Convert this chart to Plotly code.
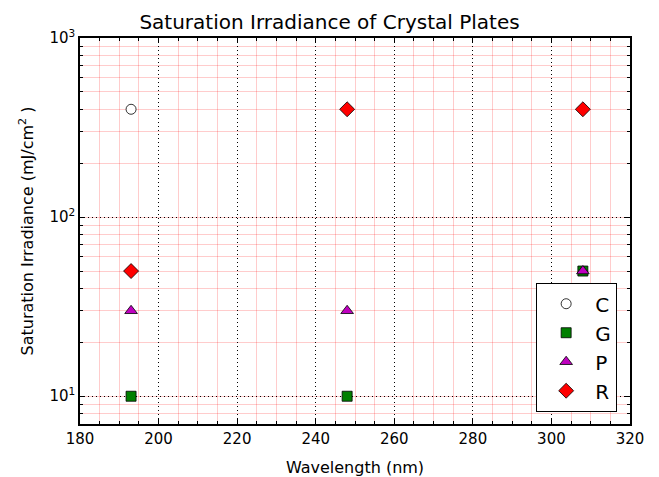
import plotly.graph_objects as go

# Data
c_x = [193]
c_y = [400]
g_x = [193, 248, 308]
g_y = [10, 10, 50]
p_x = [193, 248, 308]
p_y = [30, 30, 50]
r_x = [193, 248, 308]
r_y = [50, 400, 400]

y_tickvals = [10, 100, 1000]
y_ticktext = ["10<sup>1</sup>", "10<sup>2</sup>", "10<sup>3</sup>"]

FONT = "DejaVu Sans"
EDGE = dict(color="black", width=0.8)

fig = go.Figure()
fig.add_trace(go.Scatter(x=c_x, y=c_y, mode="markers", name="C", legendgroup="C",
                         marker=dict(symbol="circle", size=10, color="white", line=EDGE)))
fig.add_trace(go.Scatter(x=g_x, y=g_y, mode="markers", name="G", legendgroup="G",
                         marker=dict(symbol="square", size=10, color="#008000", line=EDGE)))
fig.add_trace(go.Scatter(x=p_x, y=p_y, mode="markers", name="P", legendgroup="P",
                         marker=dict(symbol="triangle-up", size=11, color="#bf00bf", line=EDGE)))
fig.add_trace(go.Scatter(x=r_x, y=r_y, mode="markers", name="R", legendgroup="R",
                         marker=dict(symbol="diamond", size=11.5, color="red", line=EDGE)))

fig.update_layout(
    width=659, height=477,
    margin=dict(l=80, r=29, t=38, b=53),
    paper_bgcolor="white", plot_bgcolor="white",
    font=dict(family=FONT, color="black", size=15),
    title=dict(text="Saturation Irradiance of Crystal Plates", x=0.5, xanchor="center",
               y=1 - 22 / 477, yanchor="middle", font=dict(size=20, family=FONT)),
    showlegend=True,
    legend=dict(x=0.829, y=0.031, xanchor="left", yanchor="bottom",
                bordercolor="black", borderwidth=1.2, bgcolor="white",
                font=dict(size=20, family=FONT), itemwidth=48,
                traceorder="grouped", tracegroupgap=0),
)

fig.update_xaxes(
    range=[180, 320], dtick=20, tick0=180, automargin=False,
    showline=True, linecolor="black", linewidth=1.5, mirror="allticks",
    ticks="inside", ticklen=5, tickcolor="black", tickwidth=1,
    showgrid=True, gridcolor="black", griddash="1px,3px", gridwidth=1,
    zeroline=False,
    tickfont=dict(size=15),
    title=dict(text="Wavelength (nm)", font=dict(size=16), standoff=16),
    minor=dict(dtick=5, tick0=180, ticks="inside", ticklen=3, tickcolor="black",
               showgrid=True, gridcolor="rgba(255,0,0,0.2)", griddash="solid", gridwidth=1),
)

fig.update_yaxes(
    type="log", range=[0.845, 3], automargin=False,
    tickmode="array", tickvals=y_tickvals, ticktext=y_ticktext,
    showline=True, linecolor="black", linewidth=1.5, mirror="allticks",
    ticks="inside", ticklen=5, tickcolor="black", tickwidth=1,
    showgrid=True, gridcolor="black", griddash="1px,3px", gridwidth=1,
    zeroline=False,
    tickfont=dict(size=15),
    title=dict(text="Saturation Irradiance (mJ/cm<sup>2</sup> )", font=dict(size=16), standoff=12),
    minor=dict(dtick="D1", ticks="inside", ticklen=3, tickcolor="black",
               showgrid=True, gridcolor="rgba(255,0,0,0.2)", griddash="solid", gridwidth=1),
)

fig.write_html("out.html", config={"displayModeBar": False},
               post_script="document.body.style.margin='0';")
